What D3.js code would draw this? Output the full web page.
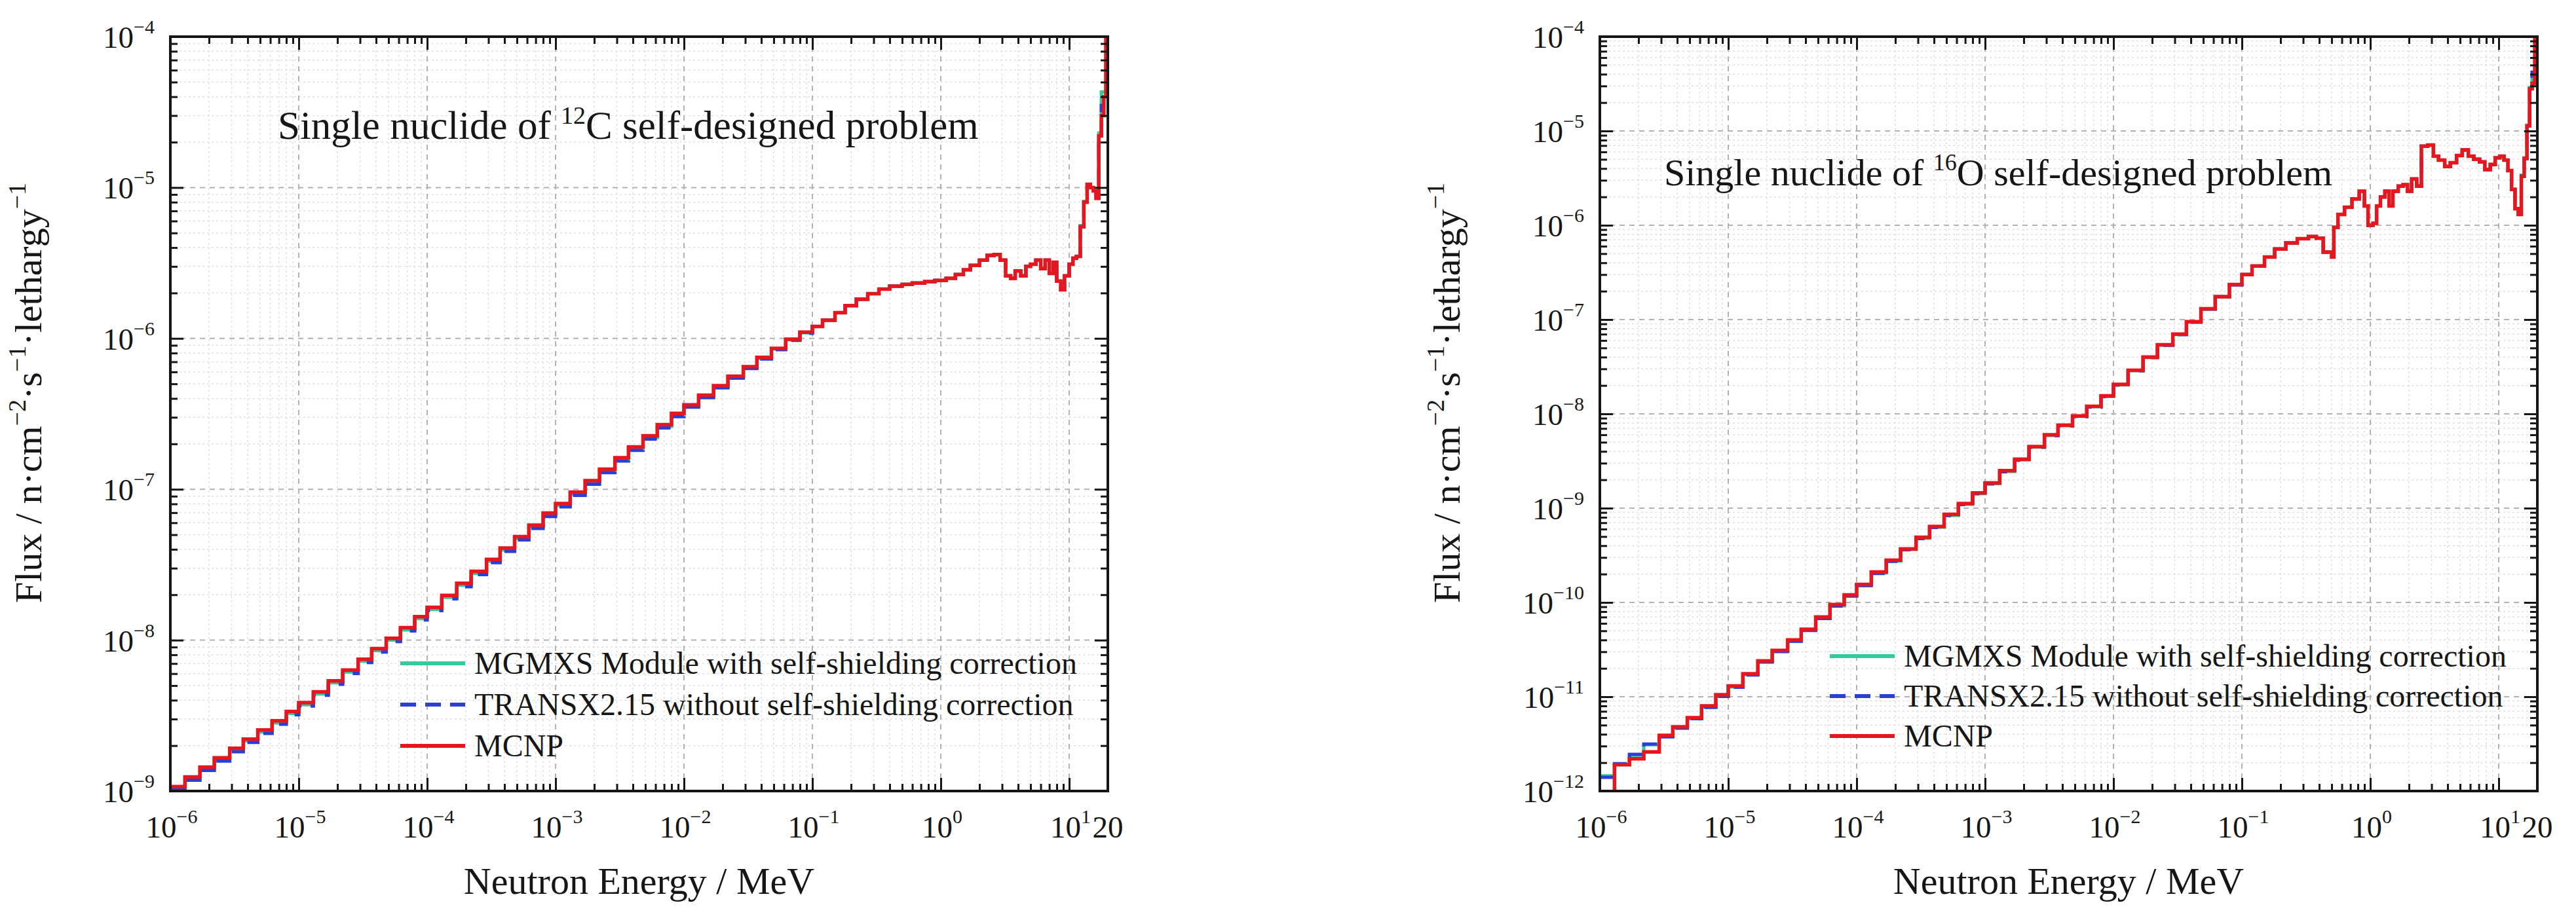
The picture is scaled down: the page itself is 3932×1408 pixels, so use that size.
<!DOCTYPE html>
<html lang="en">
<head>
<meta charset="utf-8">
<title>Flux spectra: 12C and 16O self-designed problems</title>
<script src="https://cdn.jsdelivr.net/npm/d3@7"></script>
<style>
  body { margin: 0; background: #fff; }
  text { font-family: "Liberation Serif", "Times New Roman", serif; fill: #161616; }
  .frame { fill: none; stroke: #161616; stroke-width: 4; }
  .tick line { stroke: #161616; stroke-width: 3; }
  .grid-major { stroke: #b2b2b2; stroke-width: 2; stroke-dasharray: 8,7; }
  .grid-minor { stroke: #e0e0e0; stroke-width: 1.5; stroke-dasharray: 3,4; }
</style>
</head>
<body>
<script>
var W = 3932, H = 1408;

// group boundaries (MeV) and flux per lethargy, 12C problem
var energyC = [
  1.0e-6, 1.3e-6, 1.7e-6, 2.2e-6, 2.9e-6, 3.7e-6, 4.8e-6, 6.2e-6, 8.0e-6,
  1.0e-5, 1.3e-5, 1.7e-5, 2.2e-5, 2.9e-5, 3.7e-5, 4.8e-5, 6.2e-5, 8.0e-5,
  1.0e-4, 1.3e-4, 1.7e-4, 2.2e-4, 2.9e-4, 3.7e-4, 4.8e-4, 6.2e-4, 8.0e-4,
  1.0e-3, 1.3e-3, 1.7e-3, 2.2e-3, 2.9e-3, 3.7e-3, 4.8e-3, 6.2e-3, 8.0e-3,
  1.0e-2, 1.3e-2, 1.7e-2, 2.2e-2, 2.9e-2, 3.7e-2, 4.8e-2, 6.2e-2, 8.0e-2,
  0.10, 0.12, 0.15, 0.18, 0.22, 0.27, 0.33, 0.40, 0.50, 0.60,
  0.75, 0.90, 1.1, 1.3, 1.5, 1.7, 2.0, 2.3, 2.6, 2.9,
  3.2, 3.5, 3.8, 4.2, 4.6, 5.0, 5.5, 6.0, 6.5, 7.0,
  7.5, 8.0, 8.6, 9.2, 10.0, 10.7, 11.4, 12.2, 13.0, 13.8,
  14.6, 15.4, 16.2, 17.0, 17.8, 18.6, 19.3, 20.0
];
var mcnpC = [
  1.07e-9, 1.24e-9, 1.44e-9, 1.66e-9, 1.92e-9, 2.21e-9, 2.54e-9, 2.92e-9, 3.37e-9,
  3.85e-9, 4.54e-9, 5.37e-9, 6.34e-9, 7.48e-9, 8.79e-9, 1.03e-8, 1.21e-8, 1.43e-8,
  1.65e-8, 1.98e-8, 2.38e-8, 2.86e-8, 3.43e-8, 4.08e-8, 4.86e-8, 5.79e-8, 6.95e-8,
  8.05e-8, 9.59e-8, 1.14e-7, 1.36e-7, 1.62e-7, 1.91e-7, 2.26e-7, 2.68e-7, 3.19e-7,
  3.63e-7, 4.20e-7, 4.86e-7, 5.62e-7, 6.50e-7, 7.48e-7, 8.59e-7, 9.89e-7, 1.10e-6,
  1.20e-6, 1.32e-6, 1.48e-6, 1.65e-6, 1.82e-6, 1.98e-6, 2.12e-6, 2.22e-6, 2.28e-6, 2.33e-6,
  2.38e-6, 2.42e-6, 2.50e-6, 2.65e-6, 2.85e-6, 3.05e-6, 3.30e-6, 3.55e-6, 3.60e-6, 3.30e-6,
  2.60e-6, 2.50e-6, 2.80e-6, 2.60e-6, 3.00e-6, 3.10e-6, 3.30e-6, 2.90e-6, 3.30e-6, 2.70e-6,
  3.20e-6, 2.40e-6, 2.10e-6, 2.60e-6, 3.10e-6, 3.40e-6, 3.50e-6, 5.50e-6, 8.00e-6, 1.05e-5,
  1.00e-5, 9.50e-6, 8.50e-6, 2.20e-5, 3.00e-5, 4.00e-5, 1.30e-4
];
var mgmxsC = [
  1.04e-9, 1.20e-9, 1.40e-9, 1.61e-9, 1.86e-9, 2.14e-9, 2.46e-9, 2.83e-9, 3.27e-9,
  3.73e-9, 4.40e-9, 5.21e-9, 6.15e-9, 7.26e-9, 8.53e-9, 1.00e-8, 1.17e-8, 1.39e-8,
  1.60e-8, 1.92e-8, 2.31e-8, 2.77e-8, 3.33e-8, 3.96e-8, 4.71e-8, 5.62e-8, 6.74e-8,
  7.81e-8, 9.30e-8, 1.11e-7, 1.32e-7, 1.57e-7, 1.86e-7, 2.20e-7, 2.61e-7, 3.11e-7,
  3.56e-7, 4.12e-7, 4.77e-7, 5.53e-7, 6.40e-7, 7.38e-7, 8.50e-7, 9.80e-7, 1.09e-6,
  1.20e-6, 1.32e-6, 1.48e-6, 1.65e-6, 1.82e-6, 1.98e-6, 2.12e-6, 2.22e-6, 2.28e-6, 2.33e-6,
  2.38e-6, 2.42e-6, 2.50e-6, 2.65e-6, 2.85e-6, 3.05e-6, 3.30e-6, 3.55e-6, 3.60e-6, 3.30e-6,
  2.60e-6, 2.50e-6, 2.80e-6, 2.60e-6, 3.00e-6, 3.10e-6, 3.30e-6, 2.90e-6, 3.30e-6, 2.70e-6,
  3.20e-6, 2.40e-6, 2.10e-6, 2.60e-6, 3.10e-6, 3.40e-6, 3.50e-6, 5.60e-6, 8.10e-6, 1.05e-5,
  1.00e-5, 9.50e-6, 8.60e-6, 2.30e-5, 4.30e-5, 4.30e-5, 4.40e-5
];
var transxC = [
  1.02e-9, 1.18e-9, 1.37e-9, 1.58e-9, 1.82e-9, 2.10e-9, 2.41e-9, 2.77e-9, 3.20e-9,
  3.66e-9, 4.31e-9, 5.10e-9, 6.02e-9, 7.11e-9, 8.35e-9, 9.79e-9, 1.15e-8, 1.36e-8,
  1.57e-8, 1.88e-8, 2.26e-8, 2.72e-8, 3.26e-8, 3.88e-8, 4.62e-8, 5.50e-8, 6.60e-8,
  7.65e-8, 9.11e-8, 1.08e-7, 1.29e-7, 1.54e-7, 1.81e-7, 2.15e-7, 2.55e-7, 3.03e-7,
  3.50e-7, 4.05e-7, 4.70e-7, 5.45e-7, 6.32e-7, 7.30e-7, 8.42e-7, 9.72e-7, 1.08e-6,
  1.20e-6, 1.32e-6, 1.48e-6, 1.65e-6, 1.82e-6, 1.98e-6, 2.12e-6, 2.22e-6, 2.28e-6, 2.33e-6,
  2.38e-6, 2.42e-6, 2.50e-6, 2.65e-6, 2.85e-6, 3.05e-6, 3.30e-6, 3.55e-6, 3.60e-6, 3.30e-6,
  2.60e-6, 2.50e-6, 2.80e-6, 2.60e-6, 3.00e-6, 3.10e-6, 3.30e-6, 2.90e-6, 3.30e-6, 2.70e-6,
  3.20e-6, 2.40e-6, 2.10e-6, 2.60e-6, 3.10e-6, 3.40e-6, 3.50e-6, 5.50e-6, 8.00e-6, 1.05e-5,
  1.00e-5, 9.50e-6, 8.50e-6, 2.10e-5, 3.50e-5, 4.10e-5, 4.20e-5
];

// group boundaries (MeV) and flux per lethargy, 16O problem
var energyO = [
  1.0e-6, 1.3e-6, 1.7e-6, 2.2e-6, 2.9e-6, 3.7e-6, 4.8e-6, 6.2e-6, 8.0e-6,
  1.0e-5, 1.3e-5, 1.7e-5, 2.2e-5, 2.9e-5, 3.7e-5, 4.8e-5, 6.2e-5, 8.0e-5,
  1.0e-4, 1.3e-4, 1.7e-4, 2.2e-4, 2.9e-4, 3.7e-4, 4.8e-4, 6.2e-4, 8.0e-4,
  1.0e-3, 1.3e-3, 1.7e-3, 2.2e-3, 2.9e-3, 3.7e-3, 4.8e-3, 6.2e-3, 8.0e-3,
  1.0e-2, 1.3e-2, 1.7e-2, 2.2e-2, 2.9e-2, 3.7e-2, 4.8e-2, 6.2e-2, 8.0e-2,
  0.10, 0.12, 0.15, 0.18, 0.22, 0.27, 0.33, 0.38, 0.43, 0.50,
  0.52, 0.56, 0.63, 0.72, 0.82, 0.90, 0.96, 1.05, 1.12, 1.2,
  1.3, 1.4, 1.5, 1.65, 1.8, 1.95, 2.1, 2.3, 2.5, 2.8,
  3.1, 3.4, 3.8, 4.2, 4.7, 5.2, 5.8, 6.4, 7.1, 7.8,
  8.6, 9.4, 10.2, 11.0, 11.8, 12.6, 13.4, 14.2, 15.0, 15.8,
  16.6, 17.4, 18.2, 19.1, 20.0
];
var mcnpO = [
  0.90e-12, 1.90e-12, 2.20e-12, 2.60e-12, 3.90e-12, 4.80e-12, 6.00e-12, 8.00e-12, 1.05e-11,
  1.30e-11, 1.75e-11, 2.40e-11, 3.10e-11, 4.00e-11, 5.20e-11, 7.00e-11, 9.50e-11, 1.20e-10,
  1.55e-10, 2.10e-10, 2.80e-10, 3.70e-10, 4.90e-10, 6.40e-10, 8.60e-10, 1.12e-9, 1.45e-9,
  1.85e-9, 2.50e-9, 3.30e-9, 4.50e-9, 6.00e-9, 7.60e-9, 9.50e-9, 1.20e-8, 1.55e-8,
  2.05e-8, 2.90e-8, 4.00e-8, 5.40e-8, 7.00e-8, 9.50e-8, 1.30e-7, 1.75e-7, 2.35e-7,
  3.0e-7, 3.7e-7, 4.6e-7, 5.6e-7, 6.5e-7, 7.2e-7, 7.6e-7, 7.3e-7, 5.2e-7, 4.6e-7,
  9.5e-7, 1.3e-6, 1.55e-6, 1.9e-6, 2.3e-6, 1.6e-6, 1.0e-6, 1.05e-6, 1.6e-6, 2.0e-6,
  2.3e-6, 1.6e-6, 2.3e-6, 2.6e-6, 2.7e-6, 2.3e-6, 3.1e-6, 2.6e-6, 6.9e-6, 7.1e-6,
  5.4e-6, 4.9e-6, 4.2e-6, 4.6e-6, 5.5e-6, 6.3e-6, 5.4e-6, 5.0e-6, 4.7e-6, 3.9e-6,
  4.4e-6, 5.2e-6, 5.4e-6, 4.9e-6, 3.8e-6, 2.4e-6, 1.5e-6, 1.3e-6, 3.3e-6, 5.1e-6,
  1.13e-5, 2.8e-5, 3.2e-5, 1.3e-4
];
var mgmxsO = [
  1.45e-12, 1.90e-12, 2.40e-12, 3.10e-12, 3.80e-12, 4.70e-12, 5.90e-12, 7.80e-12, 1.02e-11,
  1.27e-11, 1.72e-11, 2.35e-11, 3.05e-11, 3.90e-11, 5.10e-11, 6.80e-11, 9.20e-11, 1.18e-10,
  1.52e-10, 2.05e-10, 2.75e-10, 3.65e-10, 4.80e-10, 6.30e-10, 8.40e-10, 1.10e-9, 1.43e-9,
  1.82e-9, 2.45e-9, 3.25e-9, 4.45e-9, 5.90e-9, 7.50e-9, 9.40e-9, 1.19e-8, 1.53e-8,
  2.03e-8, 2.87e-8, 3.96e-8, 5.35e-8, 6.95e-8, 9.40e-8, 1.29e-7, 1.74e-7, 2.33e-7,
  3.0e-7, 3.7e-7, 4.6e-7, 5.6e-7, 6.5e-7, 7.2e-7, 7.6e-7, 7.3e-7, 5.2e-7, 4.6e-7,
  9.5e-7, 1.3e-6, 1.55e-6, 1.9e-6, 2.3e-6, 1.6e-6, 1.0e-6, 1.05e-6, 1.6e-6, 2.0e-6,
  2.3e-6, 1.6e-6, 2.3e-6, 2.6e-6, 2.7e-6, 2.3e-6, 3.1e-6, 2.6e-6, 6.9e-6, 7.1e-6,
  5.4e-6, 4.9e-6, 4.2e-6, 4.6e-6, 5.5e-6, 6.3e-6, 5.4e-6, 5.0e-6, 4.7e-6, 3.9e-6,
  4.4e-6, 5.2e-6, 5.4e-6, 4.9e-6, 3.8e-6, 2.4e-6, 1.5e-6, 1.45e-6, 3.4e-6, 5.2e-6,
  1.15e-5, 2.9e-5, 4.0e-5, 4.1e-5
];
var transxO = [
  1.40e-12, 1.95e-12, 2.45e-12, 3.15e-12, 3.75e-12, 4.65e-12, 5.85e-12, 7.70e-12, 1.01e-11,
  1.26e-11, 1.70e-11, 2.33e-11, 3.02e-11, 3.88e-11, 5.05e-11, 6.75e-11, 9.15e-11, 1.17e-10,
  1.51e-10, 2.03e-10, 2.73e-10, 3.62e-10, 4.76e-10, 6.25e-10, 8.35e-10, 1.09e-9, 1.42e-9,
  1.81e-9, 2.43e-9, 3.23e-9, 4.42e-9, 5.87e-9, 7.45e-9, 9.35e-9, 1.18e-8, 1.52e-8,
  2.02e-8, 2.86e-8, 3.95e-8, 5.33e-8, 6.93e-8, 9.38e-8, 1.29e-7, 1.74e-7, 2.33e-7,
  3.0e-7, 3.7e-7, 4.6e-7, 5.6e-7, 6.5e-7, 7.2e-7, 7.6e-7, 7.3e-7, 5.2e-7, 4.6e-7,
  9.5e-7, 1.3e-6, 1.55e-6, 1.9e-6, 2.3e-6, 1.6e-6, 1.0e-6, 1.05e-6, 1.6e-6, 2.0e-6,
  2.3e-6, 1.6e-6, 2.3e-6, 2.6e-6, 2.7e-6, 2.3e-6, 3.1e-6, 2.6e-6, 6.9e-6, 7.1e-6,
  5.4e-6, 4.9e-6, 4.2e-6, 4.6e-6, 5.5e-6, 6.3e-6, 5.4e-6, 5.0e-6, 4.7e-6, 3.9e-6,
  4.4e-6, 5.2e-6, 5.4e-6, 4.9e-6, 3.8e-6, 2.4e-6, 1.5e-6, 1.40e-6, 3.3e-6, 5.1e-6,
  1.13e-5, 2.8e-5, 4.2e-5, 4.3e-5
];

var seriesNames = ["MGMXS Module with self-shielding correction",
                   "TRANSX2.15 without self-shielding correction",
                   "MCNP"];
var seriesColors = ["#35c99c", "#2a3fd4", "#e6161e"];
var seriesDash = [null, "24,14", null];

var xDecades = [-6, -5, -4, -3, -2, -1, 0, 1];

var plotTop = 56, plotBottom = 1208;

var panels = [
  { id: "c", energy: energyC, series: [mgmxsC, transxC, mcnpC], yMin: -9,
    left: 260, right: 1691, yLabelX: 63, mass: "12", nuclide: "C",
    titleX: 424, titleY: 212, titleSize: 61, legendY: [1013, 1076, 1139] },
  { id: "o", energy: energyO, series: [mgmxsO, transxO, mcnpO], yMin: -12,
    left: 2442, right: 3873, yLabelX: 2228, mass: "16", nuclide: "O",
    titleX: 2540, titleY: 283, titleSize: 58, legendY: [1002, 1063, 1124] }
];

var svg = d3.select("body").append("svg")
    .attr("width", W)
    .attr("height", H);

function minorValues(lo, hi, max) {
    var v = [];
    for (var d = lo; d < hi; d++) {
        for (var k = 2; k <= 9; k++) {
            var t = k * Math.pow(10, d);
            if (t < max) v.push(t);
        }
    }
    return v;
}

function powLabel(g, x, y, exp, anchor) {
    var t = g.append("text")
        .attr("x", x).attr("y", y)
        .attr("text-anchor", anchor)
        .attr("font-size", 47);
    t.append("tspan").text("10");
    t.append("tspan").attr("dy", -22).attr("font-size", 30)
        .text(exp < 0 ? "\u2212" + (-exp) : String(exp));
    return t;
}

function steps(energy, flux) {
    var pts = flux.map(function (f, i) { return [energy[i], f]; });
    pts.push([energy[energy.length - 1], flux[flux.length - 1]]);
    return pts;
}

panels.forEach(function (p) {
    var x = d3.scaleLog().domain([1e-6, 20]).range([p.left, p.right]);
    var y = d3.scaleLog().domain([Math.pow(10, p.yMin), 1e-4]).range([plotBottom, plotTop]);
    var g = svg.append("g");

    var xMajor = xDecades.map(function (d) { return Math.pow(10, d); });
    var xMinor = minorValues(-6, 2, 20);
    var yMajor = d3.range(p.yMin, -3).map(function (d) { return Math.pow(10, d); });
    var yMinor = minorValues(p.yMin, -4, 1e-4);

    // grid
    g.selectAll(".gx-minor").data(xMinor).enter().append("line")
        .attr("class", "grid-minor")
        .attr("x1", x).attr("x2", x).attr("y1", plotTop).attr("y2", plotBottom);
    g.selectAll(".gy-minor").data(yMinor).enter().append("line")
        .attr("class", "grid-minor")
        .attr("x1", p.left).attr("x2", p.right).attr("y1", y).attr("y2", y);
    g.selectAll(".gx-major").data(xMajor.slice(1)).enter().append("line")
        .attr("class", "grid-major")
        .attr("x1", x).attr("x2", x).attr("y1", plotTop).attr("y2", plotBottom);
    g.selectAll(".gy-major").data(yMajor.slice(1)).enter().append("line")
        .attr("class", "grid-major")
        .attr("x1", p.left).attr("x2", p.right).attr("y1", y).attr("y2", y);

    // curves
    var clipId = "clip-" + p.id;
    svg.append("clipPath").attr("id", clipId).append("rect")
        .attr("x", p.left).attr("y", plotTop)
        .attr("width", p.right - p.left).attr("height", plotBottom - plotTop);

    var line = d3.line()
        .x(function (d) { return x(d[0]); })
        .y(function (d) { return y(d[1]); })
        .curve(d3.curveStepAfter);

    p.series.forEach(function (s, i) {
        g.append("path")
            .attr("clip-path", "url(#" + clipId + ")")
            .attr("d", line(steps(p.energy, s)))
            .attr("fill", "none")
            .attr("stroke", seriesColors[i])
            .attr("stroke-width", i === 2 ? 5.5 : 5)
            .attr("stroke-dasharray", seriesDash[i]);
    });

    // inward ticks on all four sides
    function ticks(axis, tr, vals, size) {
        g.append("g").attr("transform", tr)
            .call(axis.tickValues(vals).tickSize(size).tickFormat(""))
            .call(function (a) { a.select(".domain").remove(); });
    }
    ticks(d3.axisBottom(x), "translate(0," + plotBottom + ")", xMajor, -20);
    ticks(d3.axisBottom(x), "translate(0," + plotBottom + ")", xMinor, -11);
    ticks(d3.axisTop(x), "translate(0," + plotTop + ")", xMajor, -20);
    ticks(d3.axisTop(x), "translate(0," + plotTop + ")", xMinor, -11);
    ticks(d3.axisLeft(y), "translate(" + p.left + ",0)", yMajor, -20);
    ticks(d3.axisLeft(y), "translate(" + p.left + ",0)", yMinor, -11);
    ticks(d3.axisRight(y), "translate(" + p.right + ",0)", yMajor, -20);
    ticks(d3.axisRight(y), "translate(" + p.right + ",0)", yMinor, -11);

    g.append("rect").attr("class", "frame")
        .attr("x", p.left).attr("y", plotTop)
        .attr("width", p.right - p.left).attr("height", plotBottom - plotTop);

    // tick labels
    xDecades.forEach(function (d) {
        powLabel(g, x(Math.pow(10, d)) + 2, 1279, d, "middle");
    });
    g.append("text").attr("x", x(20)).attr("y", 1279)
        .attr("text-anchor", "middle").attr("font-size", 47).text("20");
    d3.range(p.yMin, -3).forEach(function (d) {
        powLabel(g, p.left - 24, y(Math.pow(10, d)) + 17, d, "end");
    });

    // axis titles
    g.append("text")
        .attr("x", (p.left + p.right) / 2).attr("y", 1365)
        .attr("text-anchor", "middle").attr("font-size", 58)
        .text("Neutron Energy / MeV");

    var yt = g.append("text")
        .attr("transform", "translate(" + p.yLabelX + ",600) rotate(-90)")
        .attr("text-anchor", "middle").attr("font-size", 58);
    yt.append("tspan").text("Flux / n\u00b7cm");
    yt.append("tspan").attr("dy", -24).attr("font-size", 38).text("\u22122");
    yt.append("tspan").attr("dy", 24).text("\u00b7s");
    yt.append("tspan").attr("dy", -24).attr("font-size", 38).text("\u22121");
    yt.append("tspan").attr("dy", 24).text("\u00b7lethargy");
    yt.append("tspan").attr("dy", -24).attr("font-size", 38).text("\u22121");

    // panel title
    var tt = g.append("text")
        .attr("x", p.titleX).attr("y", p.titleY)
        .attr("font-size", p.titleSize);
    tt.append("tspan").text("Single nuclide of ");
    tt.append("tspan").attr("dy", -23).attr("font-size", Math.round(p.titleSize * 0.62)).text(p.mass);
    tt.append("tspan").attr("dy", 23).text(p.nuclide + " self-designed problem");

    // legend
    seriesNames.forEach(function (name, i) {
        var ly = p.legendY[i];
        g.append("line")
            .attr("x1", p.left + 351).attr("x2", p.left + 450)
            .attr("y1", ly).attr("y2", ly)
            .attr("stroke", seriesColors[i])
            .attr("stroke-width", 6)
            .attr("stroke-dasharray", seriesDash[i]);
        g.append("text")
            .attr("x", p.left + 464).attr("y", ly + 16)
            .attr("font-size", 48)
            .text(name);
    });
});
</script>
</body>
</html>
